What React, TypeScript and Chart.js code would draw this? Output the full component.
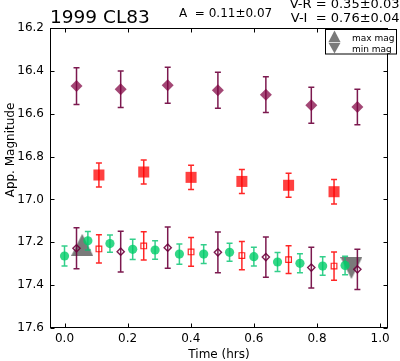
import React, { useEffect, useRef } from 'react';
import { Chart, registerables } from 'chart.js';
Chart.register(...registerables);

// ---- data ----
const xTicks = [0.0, 0.2, 0.4, 0.6, 0.8, 1.0];
const yTicks = [16.2, 16.4, 16.6, 16.8, 17.0, 17.2, 17.4, 17.6];

const purpleTimes = [0.038, 0.178, 0.327, 0.486, 0.638, 0.782, 0.928];
const purpleBig = [16.471, 16.486, 16.467, 16.491, 16.511, 16.561, 16.569];
const purpleBigErr = [0.086, 0.085, 0.084, 0.084, 0.083, 0.084, 0.083];
const purpleSmall = [17.228, 17.244, 17.225, 17.247, 17.269, 17.318, 17.326];
const purpleSmallErr = [0.096, 0.095, 0.096, 0.095, 0.094, 0.095, 0.094];

const redTimes = [0.109, 0.251, 0.401, 0.562, 0.71, 0.854];
const redBig = [16.886, 16.872, 16.897, 16.916, 16.934, 16.964];
const redBigErr = [0.056, 0.056, 0.057, 0.056, 0.056, 0.057];
const redSmall = [17.231, 17.217, 17.245, 17.262, 17.281, 17.311];
const redSmallErr = [0.066, 0.066, 0.067, 0.066, 0.065, 0.066];

const greenTimes = [0.0, 0.074, 0.144, 0.216, 0.287, 0.364, 0.441, 0.523, 0.6, 0.675, 0.746, 0.818, 0.889];
const greenMag = [17.264, 17.193, 17.206, 17.233, 17.236, 17.255, 17.255, 17.247, 17.267, 17.292, 17.298, 17.311, 17.308];
const greenErr = [0.047, 0.043, 0.04, 0.047, 0.043, 0.047, 0.044, 0.042, 0.044, 0.044, 0.044, 0.043, 0.043];

const maxTimes = [0.056];
const maxMag = [17.212];
const minTimes = [0.909];
const minMag = [17.32];

const titleText = '1999 CL83';
const ampText = 'A  = 0.11\u00b10.07';
const vrText = 'V-R = 0.35\u00b10.03';
const viText = 'V-I  = 0.76\u00b10.04';
const legendLabels = ['max mag', 'min mag'];

const FONT = '"DejaVu Sans", "Liberation Sans", sans-serif';
const GRAY = 'rgba(50,50,50,0.65)';

function pts(xs: number[], ys: number[]) {
  return xs.map((x, i) => ({ x, y: ys[i] }));
}

function makeTriangle(up: boolean, w: number, h: number, color: string) {
  const c = document.createElement('canvas');
  c.width = w;
  c.height = h;
  const ctx = c.getContext('2d')!;
  ctx.fillStyle = color;
  ctx.beginPath();
  if (up) {
    ctx.moveTo(w / 2, 0);
    ctx.lineTo(w, h);
    ctx.lineTo(0, h);
  } else {
    ctx.moveTo(0, 0);
    ctx.lineTo(w, 0);
    ctx.lineTo(w / 2, h);
  }
  ctx.closePath();
  ctx.fill();
  return c;
}

const decor = {
  id: 'decor',
  beforeDatasetDraw(chart: any, args: any) {
    const ds = chart.data.datasets[args.index];
    if (!ds.errorBars) return;
    const { ctx } = chart;
    const x = chart.scales.x;
    const y = chart.scales.y;
    ctx.save();
    ctx.strokeStyle = ds.errorColor;
    ctx.lineWidth = 1.5;
    ds.data.forEach((p: any, i: number) => {
      const e = ds.errorBars[i];
      const px = x.getPixelForValue(p.x);
      const y1 = y.getPixelForValue(p.y - e);
      const y2 = y.getPixelForValue(p.y + e);
      ctx.beginPath();
      ctx.moveTo(px, y1);
      ctx.lineTo(px, y2);
      ctx.moveTo(px - 3, y1);
      ctx.lineTo(px + 3, y1);
      ctx.moveTo(px - 3, y2);
      ctx.lineTo(px + 3, y2);
      ctx.stroke();
    });
    ctx.restore();
  },
  afterDraw(chart: any) {
    const { ctx, chartArea: a } = chart;
    const x = chart.scales.x;
    const y = chart.scales.y;
    ctx.save();
    // frame
    ctx.strokeStyle = '#000';
    ctx.lineWidth = 1;
    const L = Math.round(a.left) + 0.5;
    const R = Math.round(a.right) - 0.5;
    const T = Math.round(a.top) + 0.5;
    const B = Math.round(a.bottom) - 0.5;
    ctx.strokeRect(L, T, R - L, B - T);
    // inward ticks
    ctx.beginPath();
    xTicks.forEach((v) => {
      const px = Math.round(x.getPixelForValue(v)) + 0.5;
      ctx.moveTo(px, B);
      ctx.lineTo(px, B - 4);
      ctx.moveTo(px, T);
      ctx.lineTo(px, T + 4);
    });
    yTicks.forEach((v) => {
      const py = Math.round(y.getPixelForValue(v)) + 0.5;
      ctx.moveTo(L, py);
      ctx.lineTo(L + 4, py);
      ctx.moveTo(R, py);
      ctx.lineTo(R - 4, py);
    });
    ctx.stroke();

    // texts
    ctx.fillStyle = '#000';
    ctx.textBaseline = 'alphabetic';
    ctx.textAlign = 'left';
    ctx.font = `18.5px ${FONT}`;
    ctx.fillText(titleText, 50, 22.5);
    ctx.font = `12px ${FONT}`;
    ctx.fillText(ampText, 179, 17.3);
    ctx.textAlign = 'right';
    ctx.font = `13px ${FONT}`;
    ctx.fillText(vrText, 399.5, 8.3);
    ctx.fillText(viText, 399.5, 21.6);

    // axis titles
    ctx.textAlign = 'center';
    ctx.font = `12px ${FONT}`;
    ctx.fillText('Time (hrs)', (a.left + a.right) / 2, 358);
    ctx.save();
    ctx.translate(14, 150);
    ctx.rotate(-Math.PI / 2);
    ctx.fillText('App. Magnitude', 0, 0);
    ctx.restore();

    // legend
    ctx.fillStyle = '#fff';
    ctx.fillRect(325.5, 29.5, 71, 24.5);
    ctx.strokeStyle = '#000';
    ctx.strokeRect(325.5, 29.5, 71, 24.5);
    ctx.fillStyle = GRAY;
    ctx.beginPath();
    ctx.moveTo(334.5, 30.5);
    ctx.lineTo(340.5, 42);
    ctx.lineTo(328.5, 42);
    ctx.closePath();
    ctx.fill();
    ctx.beginPath();
    ctx.moveTo(328.5, 42.8);
    ctx.lineTo(340.5, 42.8);
    ctx.lineTo(334.5, 53.5);
    ctx.closePath();
    ctx.fill();
    ctx.fillStyle = '#000';
    ctx.textAlign = 'left';
    ctx.font = `9px ${FONT}`;
    ctx.fillText(legendLabels[0], 352, 41);
    ctx.fillText(legendLabels[1], 352, 51.5);
    ctx.restore();
  },
};

export default function App() {
  const ref = useRef<HTMLCanvasElement | null>(null);
  useEffect(() => {
    document.body.style.margin = '0';
    const canvas = ref.current!;
    const upTri = makeTriangle(true, 22, 22, GRAY);
    const downTri = makeTriangle(false, 22, 22, GRAY);
    const purpleFill = 'rgba(128,0,64,0.72)';
    const purpleLine = 'rgba(110,0,60,0.9)';
    const redFill = 'rgba(255,0,0,0.75)';
    const redLine = 'rgba(255,0,0,0.85)';
    const greenFill = 'rgba(0,205,105,0.8)';
    const greenLine = 'rgba(0,195,110,0.8)';

    const chart = new Chart(canvas, {
      type: 'scatter',
      data: {
        datasets: [
          {
            label: 'purple small',
            data: pts(purpleTimes, purpleSmall),
            pointStyle: 'rectRot',
            pointRadius: 3.6,
            backgroundColor: 'rgba(255,255,255,0)',
            borderColor: purpleLine,
            borderWidth: 1.4,
            errorBars: purpleSmallErr,
            errorColor: purpleLine,
          } as any,
          {
            label: 'red small',
            data: pts(redTimes, redSmall),
            pointStyle: 'rect',
            pointRadius: 4,
            backgroundColor: 'rgba(255,255,255,0)',
            borderColor: redLine,
            borderWidth: 1.2,
            errorBars: redSmallErr,
            errorColor: redLine,
          } as any,
          {
            label: 'green',
            data: pts(greenTimes, greenMag),
            pointStyle: 'circle',
            pointRadius: 4.6,
            backgroundColor: greenFill,
            borderWidth: 0,
            errorBars: greenErr,
            errorColor: greenLine,
          } as any,
          {
            label: 'purple big',
            data: pts(purpleTimes, purpleBig),
            pointStyle: 'rectRot',
            pointRadius: 6,
            backgroundColor: purpleFill,
            borderWidth: 0,
            errorBars: purpleBigErr,
            errorColor: purpleLine,
          } as any,
          {
            label: 'red big',
            data: pts(redTimes, redBig),
            pointStyle: 'rect',
            pointRadius: 7.8,
            backgroundColor: redFill,
            borderWidth: 0,
            errorBars: redBigErr,
            errorColor: redLine,
          } as any,
          {
            label: 'max mag',
            data: pts(maxTimes, maxMag),
            pointStyle: upTri,
            pointRadius: 11,
          } as any,
          {
            label: 'min mag',
            data: pts(minTimes, minMag),
            pointStyle: downTri,
            pointRadius: 11,
          } as any,
        ],
      },
      options: {
        animation: false,
        responsive: false,
        devicePixelRatio: 1,
        layout: { padding: { top: 28, right: 2, left: 0, bottom: 0 } },
        plugins: { legend: { display: false }, tooltip: { enabled: false } },
        elements: { point: { hoverRadius: 0 } },
        scales: {
          x: {
            type: 'linear',
            min: -0.046,
            max: 1.025,
            grid: { display: false, drawTicks: false },
            border: { display: false },
            afterBuildTicks: (s: any) => {
              s.ticks = xTicks.map((v) => ({ value: v }));
            },
            afterFit: (s: any) => {
              s.height = 33;
            },
            ticks: {
              padding: 4,
              color: '#000',
              font: { family: FONT, size: 12 },
              callback: (v: any) => Number(v).toFixed(1),
              maxRotation: 0,
              autoSkip: false,
            },
          },
          y: {
            type: 'linear',
            reverse: true,
            min: 16.2,
            max: 17.6,
            grid: { display: false, drawTicks: false },
            border: { display: false },
            afterBuildTicks: (s: any) => {
              s.ticks = yTicks.map((v) => ({ value: v }));
            },
            afterFit: (s: any) => {
              s.width = 50;
            },
            ticks: {
              padding: 6,
              color: '#000',
              font: { family: FONT, size: 12 },
              callback: (v: any) => Number(v).toFixed(1),
              autoSkip: false,
            },
          },
        },
      } as any,
      plugins: [decor],
    });
    return () => chart.destroy();
  }, []);
  return (
    <div style={{ position: 'absolute', left: 0, top: 0, width: 400, height: 361 }}>
      <canvas ref={ref} width={400} height={361} />
    </div>
  );
}
